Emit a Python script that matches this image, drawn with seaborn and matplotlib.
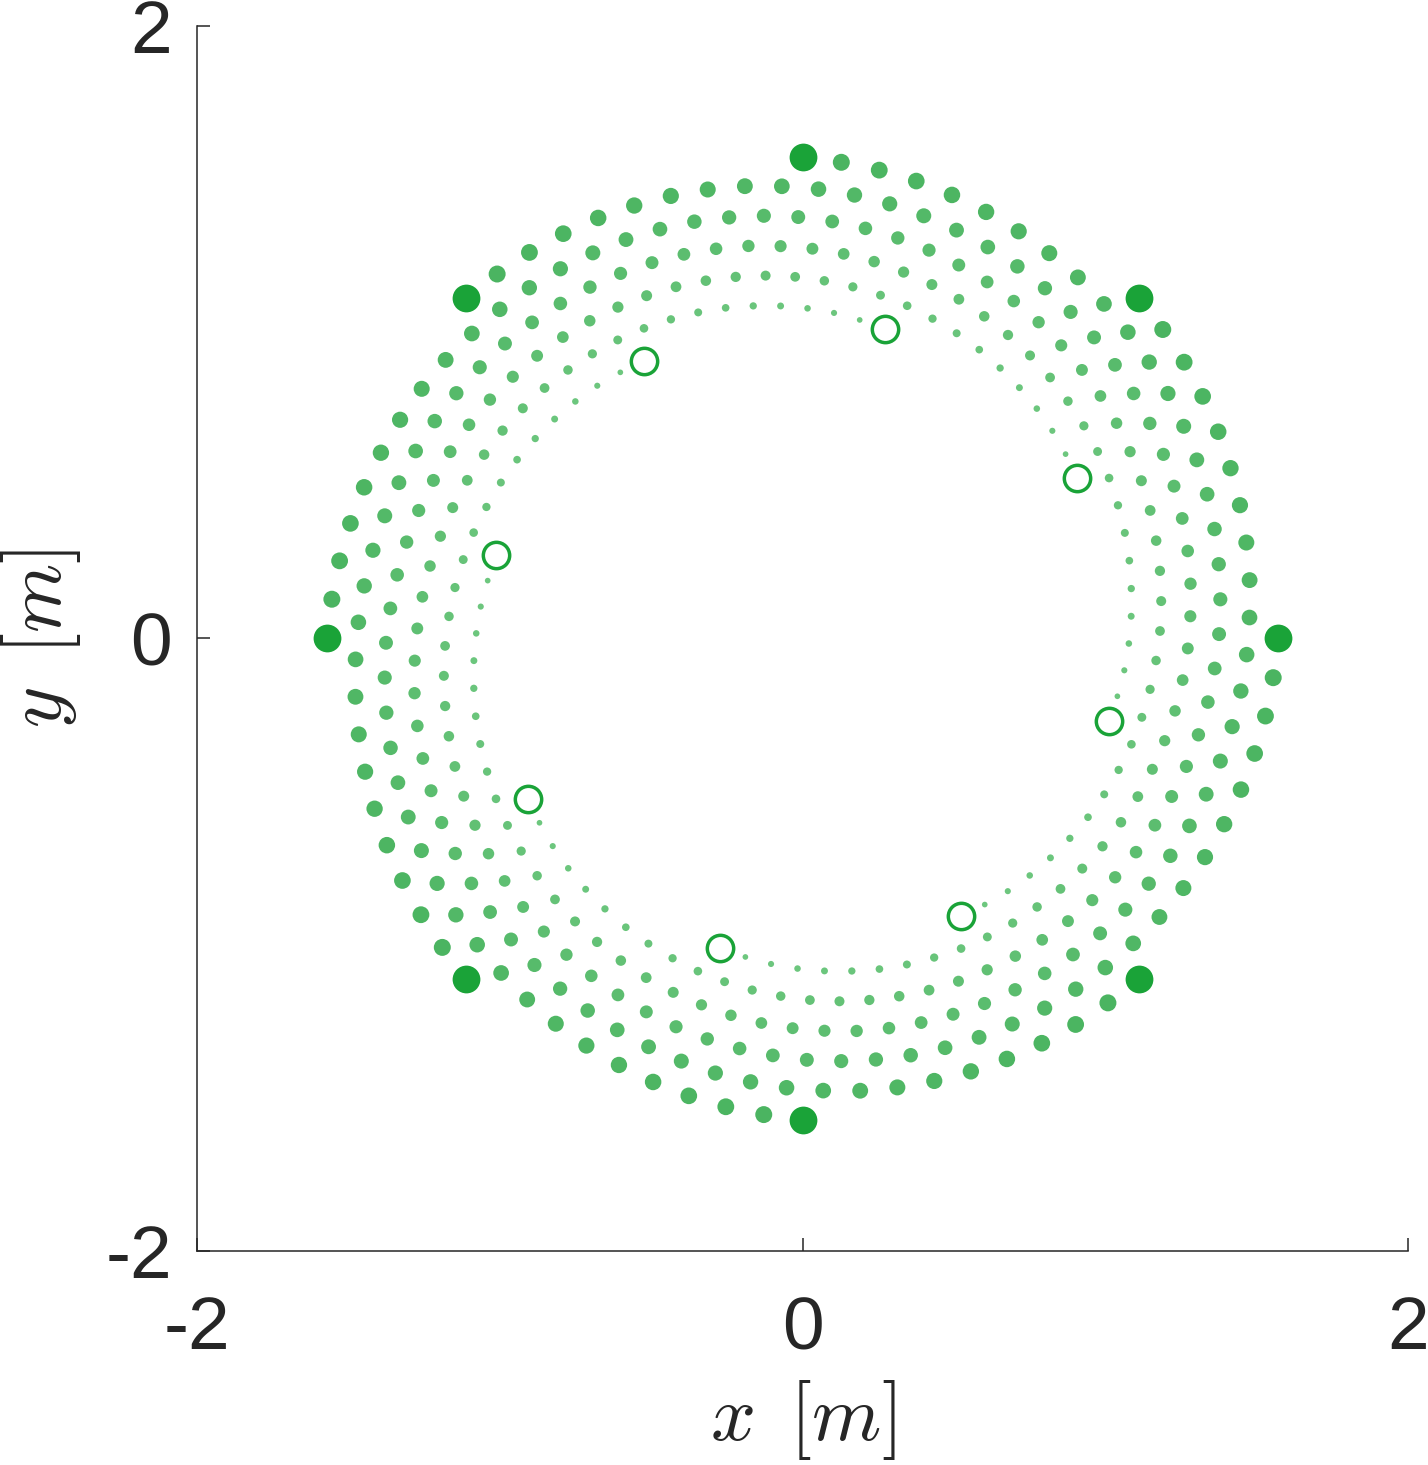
import numpy as np
import pandas as pd
import matplotlib
matplotlib.use("Agg")
import matplotlib.pyplot as plt
import seaborn as sns

# heading of the 8 agents at start (filled) and goal (open), in degrees
start_angle = [0, 45, 90, 135, 180, 225, 270, 315]
goal_angle = [120, 165, 210, 255, 300, 345, 30, 75]
start_radius = 1.571
goal_radius = 1.047

# one trajectory: clockwise sweep from the start (deg) and radius
sweep_deg = [0.00, 4.71, 9.41, 14.12, 18.82, 23.53, 28.24, 32.94, 37.65, 42.35,
             47.06, 51.76, 56.47, 61.18, 65.88, 70.59, 75.29, 80.00, 84.71, 89.41,
             94.12, 98.82, 103.53, 108.24, 112.94, 117.65, 122.35, 127.06, 131.76, 136.47,
             141.18, 145.88, 150.59, 155.29, 160.00, 164.71, 169.41, 174.12, 178.82, 183.53,
             188.24, 192.94, 197.65, 202.35, 207.06, 211.76, 216.47, 221.18, 225.88, 230.59,
             235.29, 240.00]
sweep_radius = [1.571, 1.560, 1.550, 1.540, 1.530, 1.519, 1.509, 1.499, 1.489, 1.478,
                1.468, 1.458, 1.448, 1.437, 1.427, 1.417, 1.407, 1.396, 1.386, 1.376,
                1.365, 1.355, 1.345, 1.335, 1.324, 1.314, 1.304, 1.294, 1.283, 1.273,
                1.263, 1.253, 1.242, 1.232, 1.222, 1.211, 1.201, 1.191, 1.181, 1.170,
                1.160, 1.150, 1.140, 1.129, 1.119, 1.109, 1.098, 1.088, 1.078, 1.068,
                1.057, 1.047]

tick_vals = [-2, 0, 2]
tick_labels = ["-2", "0", "2"]

dark_green = "#1aa338"
text_col = "#262626"

sns.set_theme(style="white")
plt.rcParams["font.family"] = ["Liberation Sans", "DejaVu Sans"]
plt.rcParams["mathtext.fontset"] = "cm"
plt.rcParams["axes.unicode_minus"] = False

# build the dots of every trajectory
rows = []
for a0 in start_angle:
    for k, (dth, r) in enumerate(zip(sweep_deg, sweep_radius)):
        th = np.deg2rad(a0 - dth)
        rows.append({"x": r * np.cos(th), "y": r * np.sin(th), "step": k})
dots = pd.DataFrame(rows)

n = len(sweep_deg)
palette = sns.blend_palette(["#4ab460", "#6ec77f"], n_colors=n)
sizes = {k: 152 - 138 * k / (n - 1) for k in range(n)}

fig = plt.figure(figsize=(14.28, 14.65), dpi=100)
ax = fig.add_axes([0.138, 0.1461, 0.848, 0.8362])

sns.scatterplot(data=dots, x="x", y="y", hue="step", palette=palette,
                size="step", sizes=sizes, linewidth=0, legend=False, ax=ax)

# start positions
sx = [start_radius * np.cos(np.deg2rad(a)) for a in start_angle]
sy = [start_radius * np.sin(np.deg2rad(a)) for a in start_angle]
sns.scatterplot(x=sx, y=sy, s=400, color=dark_green, linewidth=0, ax=ax)

# goal positions
gx = [goal_radius * np.cos(np.deg2rad(a)) for a in goal_angle]
gy = [goal_radius * np.sin(np.deg2rad(a)) for a in goal_angle]
sns.scatterplot(x=gx, y=gy, s=360, color="white", edgecolor=dark_green,
                linewidth=2.5, ax=ax)

ax.set_xlim(-2, 2)
ax.set_ylim(-2, 2)
ax.set_xticks(tick_vals)
ax.set_xticklabels(tick_labels)
ax.set_yticks(tick_vals)
ax.set_yticklabels(tick_labels)
sns.despine(ax=ax)
for side in ["left", "bottom"]:
    ax.spines[side].set_linewidth(1.1)
    ax.spines[side].set_color(text_col)

ax.tick_params(direction="in", length=9.4, width=1.1, labelsize=54,
               colors=text_col, left=True, bottom=True)
ax.tick_params(axis="x", pad=32)
ax.tick_params(axis="y", pad=18)

ax.set_xlabel(r"$x\ \,[m]$", fontsize=57, color=text_col)
ax.set_ylabel(r"$y\ \,[m]$", fontsize=57, color=text_col)
ax.xaxis.set_label_coords(0.5, -0.104)
ax.yaxis.set_label_coords(-0.094, 0.5)

fig.savefig("out.png", dpi=100, facecolor="white")
